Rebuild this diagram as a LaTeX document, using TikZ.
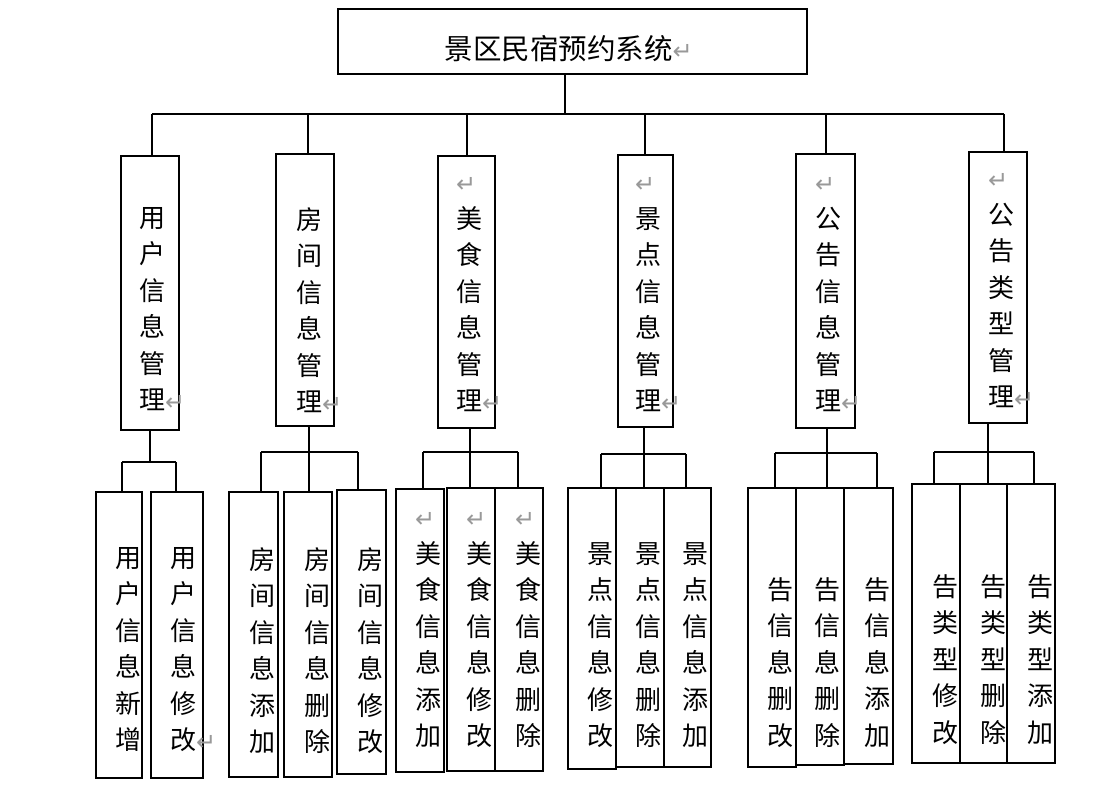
\documentclass[tikz,border=0pt]{standalone}
\usepackage{fontspec}
\newfontfamily\cjk{Noto Sans CJK SC}
\newfontfamily\dejavu{DejaVu Sans}
\newcommand\retmark{\raisebox{-0.5pt}{\textcolor{gray!80}{\dejavu\fontsize{24}{24}\selectfont ↵}}}
\newcommand\headmark{\makebox[26pt][l]{\smash{\retmark}}\rule{0pt}{14.5pt}}

\begin{document}
\begin{tikzpicture}[x=1pt, y=-1pt,
    box/.style={draw, line width=1.4pt, inner sep=0pt},
    link/.style={line width=1.4pt},
    vtext/.style={font={\cjk\fontsize{26}{36.5}\selectfont}, align=center, inner sep=0pt, anchor=north},
    titletext/.style={font={\cjk\fontsize{28.5}{30}\selectfont}, inner sep=0pt}]
    \useasboundingbox (0,0) rectangle (1097,797);
    % root
    \node[box, minimum width=469pt, minimum height=65pt] (root) at (572.5,41.5) {};
    \node[titletext] (roottxt) at (558.5,48.5) {景区民宿预约系统\rlap{\retmark}};
    % modules
    \node[box, minimum width=58pt, minimum height=274pt] (m1) at (150,293) {};
    \node[box, minimum width=58pt, minimum height=272pt] (m2) at (305,290) {};
    \node[box, minimum width=57pt, minimum height=272pt] (m3) at (466.5,292) {};
    \node[box, minimum width=55pt, minimum height=272pt] (m4) at (645.5,291) {};
    \node[box, minimum width=59pt, minimum height=274pt] (m5) at (825.5,291) {};
    \node[box, minimum width=58pt, minimum height=271pt] (m6) at (998,287.5) {};
    \node[vtext] (t1) at (152,207) {用\\户\\信\\息\\管\\理\rlap{\retmark}};
    \node[vtext] (t2) at (309,207) {房\\间\\信\\息\\管\\理\rlap{\retmark}};
    \node[vtext] (t3) at (469,177) {\headmark\\美\\食\\信\\息\\管\\理\rlap{\retmark}};
    \node[vtext] (t4) at (648,177) {\headmark\\景\\点\\信\\息\\管\\理\rlap{\retmark}};
    \node[vtext] (t5) at (828,177) {\headmark\\公\\告\\信\\息\\管\\理\rlap{\retmark}};
    \node[vtext] (t6) at (1001,173) {\headmark\\公\\告\\类\\型\\管\\理\rlap{\retmark}};
    % functions
    \node[box, minimum width=46pt, minimum height=286pt] (s11) at (119,635) {};
    \node[box, minimum width=52pt, minimum height=286pt] (s12) at (177,635) {};
    \node[box, minimum width=49pt, minimum height=285pt] (s21) at (253.5,634.5) {};
    \node[box, minimum width=48pt, minimum height=285pt] (s22) at (308,634.5) {};
    \node[box, minimum width=49pt, minimum height=284pt] (s23) at (361.5,632) {};
    \node[box, minimum width=48pt, minimum height=283pt] (s31) at (420,630.5) {};
    \node[box, minimum width=48pt, minimum height=283pt] (s32) at (471,629.5) {};
    \node[box, minimum width=48pt, minimum height=283pt] (s33) at (519,629.5) {};
    \node[box, minimum width=48pt, minimum height=281pt] (s41) at (592,628.5) {};
    \node[box, minimum width=48pt, minimum height=279pt] (s42) at (640,627.5) {};
    \node[box, minimum width=47pt, minimum height=279pt] (s43) at (687.5,627.5) {};
    \node[box, minimum width=48pt, minimum height=279pt] (s51) at (772,627.5) {};
    \node[box, minimum width=48pt, minimum height=277pt] (s52) at (820,626.5) {};
    \node[box, minimum width=49pt, minimum height=276pt] (s53) at (868.5,626) {};
    \node[box, minimum width=48pt, minimum height=279pt] (s61) at (936,623.5) {};
    \node[box, minimum width=47pt, minimum height=279pt] (s62) at (983.5,623.5) {};
    \node[box, minimum width=48pt, minimum height=279pt] (s63) at (1031,623.5) {};
    \node[vtext] (u11) at (128,547) {用\\户\\信\\息\\新\\增};
    \node[vtext] (u12) at (183,547) {用\\户\\信\\息\\修\\改\rlap{\retmark}};
    \node[vtext] (u21) at (262,547) {房\\间\\信\\息\\添\\加};
    \node[vtext] (u22) at (317,547) {房\\间\\信\\息\\删\\除};
    \node[vtext] (u23) at (370,547) {房\\间\\信\\息\\修\\改};
    \node[vtext] (u31) at (428,512) {\headmark\\美\\食\\信\\息\\添\\加};
    \node[vtext] (u32) at (479,512) {\headmark\\美\\食\\信\\息\\修\\改};
    \node[vtext] (u33) at (528,512) {\headmark\\美\\食\\信\\息\\删\\除};
    \node[vtext] (u41) at (600,542) {景\\点\\信\\息\\修\\改};
    \node[vtext] (u42) at (648,542) {景\\点\\信\\息\\删\\除};
    \node[vtext] (u43) at (695,542) {景\\点\\信\\息\\添\\加};
    \node[vtext] (u51) at (780,577) {告\\信\\息\\删\\改};
    \node[vtext] (u52) at (827,577) {告\\信\\息\\删\\除};
    \node[vtext] (u53) at (877,577) {告\\信\\息\\添\\加};
    \node[vtext] (u61) at (945,574) {告\\类\\型\\修\\改};
    \node[vtext] (u62) at (993,574) {告\\类\\型\\删\\除};
    \node[vtext] (u63) at (1040,574) {告\\类\\型\\添\\加};
    % bus under the root
    \coordinate (j0) at (565,114);
    \coordinate (b1) at (152,114);
    \coordinate (b2) at (308,114);
    \coordinate (b3) at (467,114);
    \coordinate (b4) at (645,114);
    \coordinate (b5) at (826,114);
    \coordinate (b6) at (1004,114);
    \draw[link] (j0 |- root.south) -- (j0);
    \draw[link] (b1) -- (b6);
    \draw[link] (b1) -- (b1 |- m1.north);
    \draw[link] (b2) -- (b2 |- m2.north);
    \draw[link] (b3) -- (b3 |- m3.north);
    \draw[link] (b4) -- (b4 |- m4.north);
    \draw[link] (b5) -- (b5 |- m5.north);
    \draw[link] (b6) -- (b6 |- m6.north);
    % hubs under the modules
    \coordinate (h1) at (150,462); \coordinate (h1l) at (122,462); \coordinate (h1r) at (176,462);
    \draw[link] (h1 |- m1.south) -- (h1);
    \draw[link] (h1l) -- (h1r);
    \draw[link] (h1l) -- (h1l |- s11.north);
    \draw[link] (h1r) -- (h1r |- s12.north);
    \coordinate (h2) at (309,452); \coordinate (h2l) at (261,452); \coordinate (h2r) at (358,452);
    \draw[link] (h2 |- m2.south) -- (h2 |- s22.north);
    \draw[link] (h2l) -- (h2r);
    \draw[link] (h2l) -- (h2l |- s21.north);
    \draw[link] (h2r) -- (h2r |- s23.north);
    \coordinate (h3) at (470,452); \coordinate (h3l) at (423,452); \coordinate (h3r) at (518,452);
    \draw[link] (h3 |- m3.south) -- (h3 |- s32.north);
    \draw[link] (h3l) -- (h3r);
    \draw[link] (h3l) -- (h3l |- s31.north);
    \draw[link] (h3r) -- (h3r |- s33.north);
    \coordinate (h4) at (644,454); \coordinate (h4l) at (601,454); \coordinate (h4r) at (686,454);
    \draw[link] (h4 |- m4.south) -- (h4 |- s42.north);
    \draw[link] (h4l) -- (h4r);
    \draw[link] (h4l) -- (h4l |- s41.north);
    \draw[link] (h4r) -- (h4r |- s43.north);
    \coordinate (h5) at (827,453); \coordinate (h5l) at (775,453); \coordinate (h5r) at (877,453);
    \draw[link] (h5 |- m5.south) -- (h5 |- s52.north);
    \draw[link] (h5l) -- (h5r);
    \draw[link] (h5l) -- (h5l |- s51.north);
    \draw[link] (h5r) -- (h5r |- s53.north);
    \coordinate (h6) at (988,452); \coordinate (h6l) at (934,452); \coordinate (h6r) at (1034,452);
    \draw[link] (h6 |- m6.south) -- (h6 |- s62.north);
    \draw[link] (h6l) -- (h6r);
    \draw[link] (h6l) -- (h6l |- s61.north);
    \draw[link] (h6r) -- (h6r |- s63.north);
\end{tikzpicture}
\end{document}
